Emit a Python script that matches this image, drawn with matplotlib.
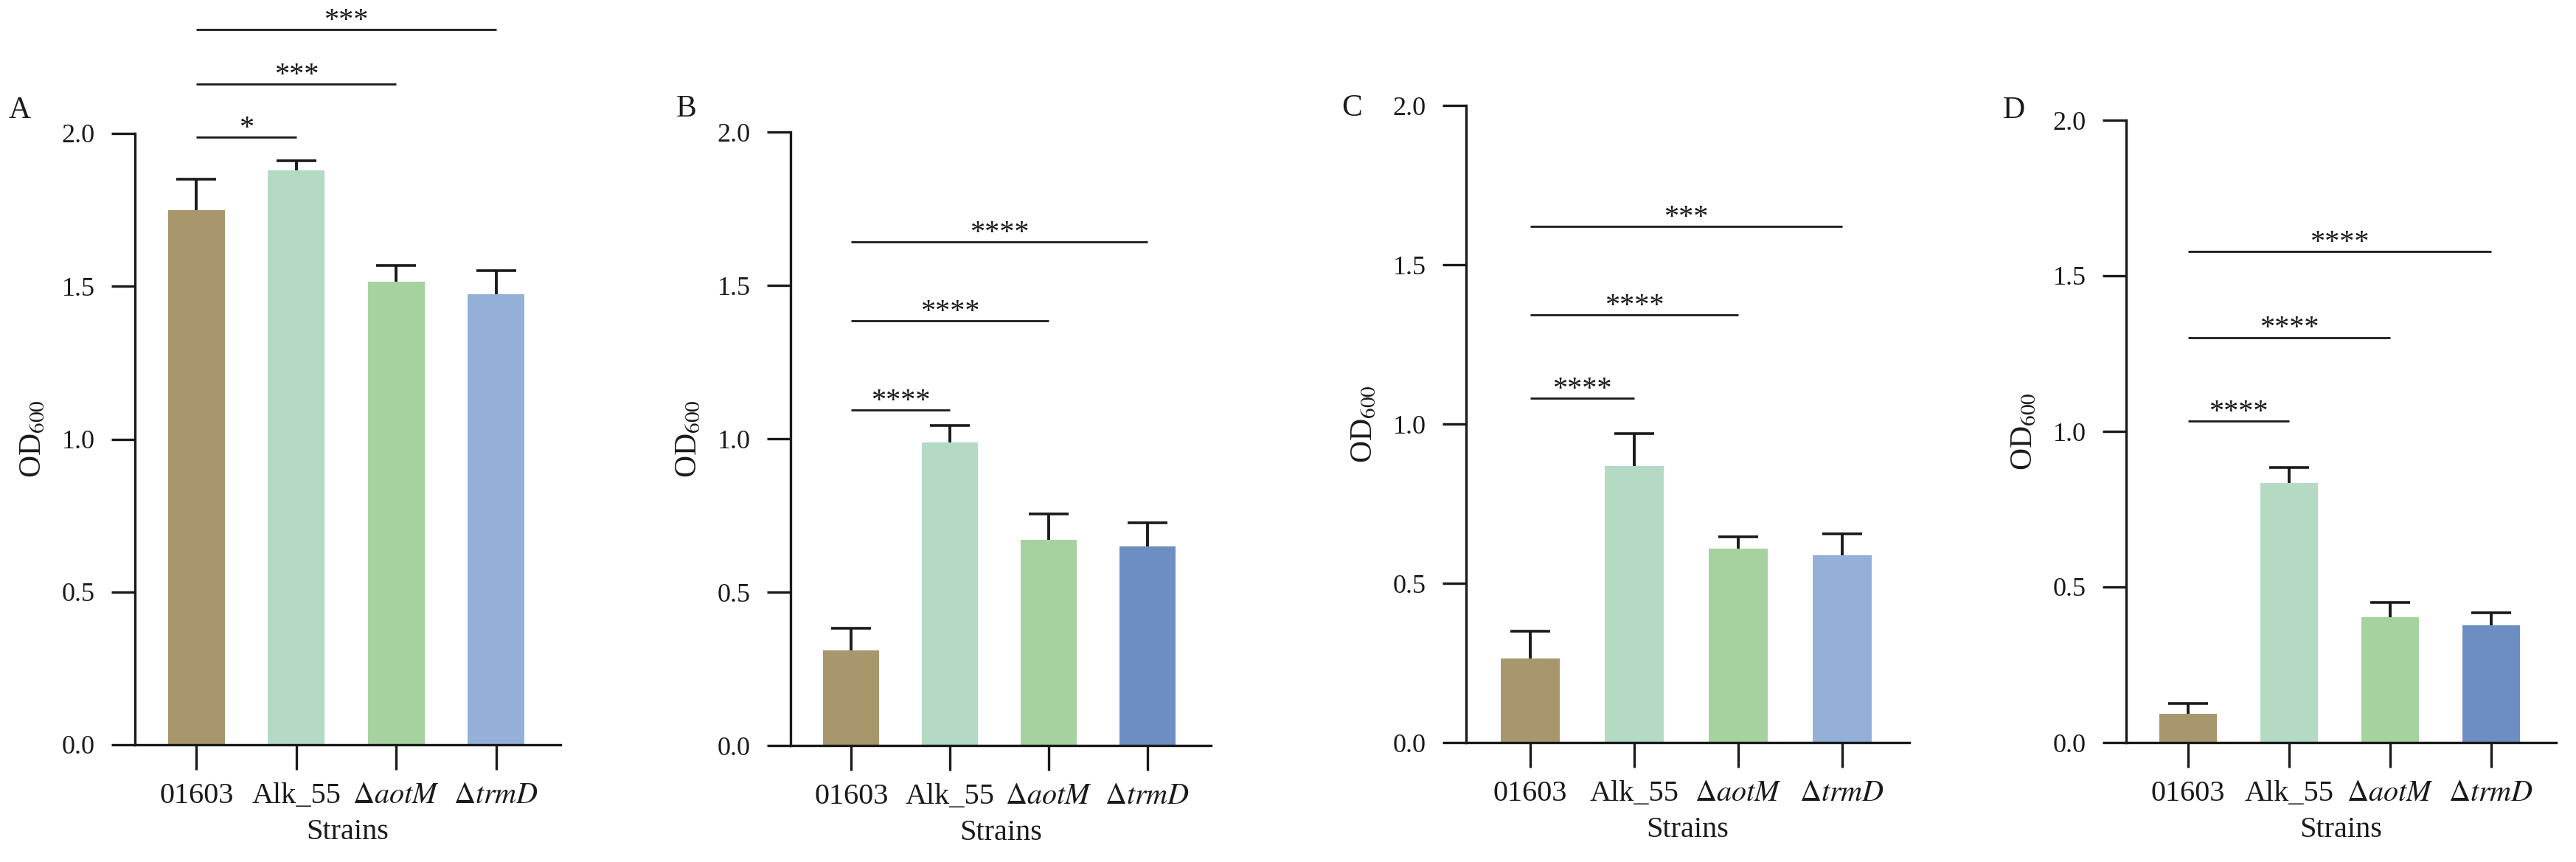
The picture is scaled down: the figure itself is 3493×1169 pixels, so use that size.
import matplotlib
matplotlib.use("Agg")
import matplotlib.pyplot as plt
import numpy as np

plt.rcParams['font.family'] = ['Liberation Serif', 'DejaVu Serif']
plt.rcParams['mathtext.fontset'] = 'stix'

# ---------------- data ----------------
strains = ['01603', 'Alk_55', r'$\Delta\mathit{aotM}$', r'$\Delta\mathit{trmD}$']
panels = ['A', 'B', 'C', 'D']

mean_A = [1.750, 1.879, 1.515, 1.474]
upper_A = [1.850, 1.910, 1.567, 1.552]
mean_B = [0.310, 0.989, 0.670, 0.648]
upper_B = [0.383, 1.043, 0.754, 0.725]
mean_C = [0.264, 0.867, 0.609, 0.588]
upper_C = [0.350, 0.970, 0.646, 0.655]
mean_D = [0.092, 0.834, 0.402, 0.377]
upper_D = [0.125, 0.884, 0.451, 0.418]

sig_pairs = [(0, 1), (0, 2), (0, 3)]
sig_h_A = [1.988, 2.162, 2.339]
sig_t_A = ['*', '***', '***']
sig_h_B = [1.093, 1.384, 1.642]
sig_t_B = ['****', '****', '****']
sig_h_C = [1.081, 1.343, 1.620]
sig_t_C = ['****', '****', '***']
sig_h_D = [1.032, 1.302, 1.578]
sig_t_D = ['****', '****', '****']

yticks = [0.0, 0.5, 1.0, 1.5, 2.0]

col_brown = '#a8976d'
col_mint = '#b4dac4'
col_green = '#a5d29e'
col_lblue = '#94b0d8'
col_dblue = '#6d8ec2'
colors_A = [col_brown, col_mint, col_green, col_lblue]
colors_B = [col_brown, col_mint, col_green, col_dblue]
colors_C = [col_brown, col_mint, col_green, col_lblue]
colors_D = [col_brown, col_mint, col_green, col_dblue]

# ---------------- layout ----------------
W, H = 3493, 1169
fig = plt.figure(figsize=(W / 100, H / 100), dpi=100)

# (left, right, top, bottom) in pixels
boxes = [(183, 760, 181, 1010), (1072, 1642, 179, 1011),
         (1988, 2589, 143, 1007), (2883, 3466, 163, 1007)]
letter_pos = [(27, 150), (931, 148), (1833, 147), (2731, 150)]

means = [mean_A, mean_B, mean_C, mean_D]
uppers = [upper_A, upper_B, upper_C, upper_D]
sig_hs = [sig_h_A, sig_h_B, sig_h_C, sig_h_D]
sig_ts = [sig_t_A, sig_t_B, sig_t_C, sig_t_D]
colors = [colors_A, colors_B, colors_C, colors_D]

ink = '#1a1a1a'
x = np.arange(len(strains))

for i in range(4):
    l, r, t, b = boxes[i]
    ax = fig.add_axes([l / W, (H - b) / H, (r - l) / W, (b - t) / H])
    m = np.array(means[i])
    u = np.array(uppers[i])
    ax.bar(x, m, width=0.57, color=colors[i], edgecolor='none', zorder=2)
    eb = ax.errorbar(x, m, yerr=[np.zeros_like(m), u - m], fmt='none',
                     ecolor=ink, elinewidth=2.8, capsize=19.5, capthick=2.6,
                     zorder=3)
    caps = eb[1]
    if len(caps) == 2:
        caps[0].set_visible(False)
    for (a, c), h, s in zip(sig_pairs, sig_hs[i], sig_ts[i]):
        ax.plot([x[a], x[c]], [h, h], color=ink, lw=2.0, clip_on=False,
                solid_capstyle='butt', zorder=4)
        ax.annotate(s, xy=((x[a] + x[c]) / 2, h), xytext=(0, 1.5),
                    textcoords='offset points', ha='center', va='baseline',
                    fontsize=29, color=ink, annotation_clip=False)
    ax.set_xlim(-0.615, 3.645)
    ax.set_ylim(0, 2.0)
    ax.set_yticks(yticks)
    ax.set_yticklabels([f'{v:.1f}' for v in yticks])
    ax.set_xticks(x)
    ax.set_xticklabels(strains)
    for sp in ['top', 'right']:
        ax.spines[sp].set_visible(False)
    for sp in ['left', 'bottom']:
        ax.spines[sp].set_linewidth(2.4)
        ax.spines[sp].set_color(ink)
    ax.tick_params(axis='y', length=23, width=2.4, pad=16, labelsize=26,
                   colors=ink)
    ax.tick_params(axis='x', length=24.5, width=2.4, pad=12, labelsize=29,
                   colors=ink)
    ax.set_xlabel('Strains', fontsize=29, labelpad=9, color=ink)
    ax.set_ylabel(r'OD$_{600}$', fontsize=30, labelpad=14, color=ink)
    ax.patch.set_alpha(0)
    lx, ly = letter_pos[i]
    fig.text(lx / W, 1 - ly / H, panels[i], fontsize=30, ha='center',
             va='center', color=ink)

fig.savefig('out.png', dpi=100, facecolor='white')
